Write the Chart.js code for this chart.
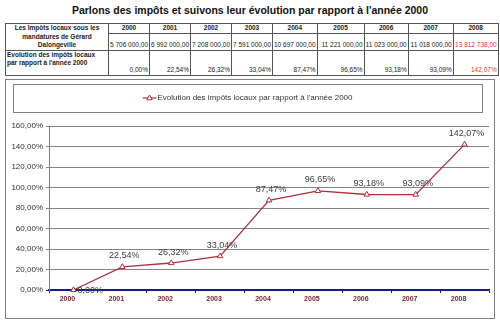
<!DOCTYPE html>
<html><head><meta charset="utf-8">
<script src="https://cdn.jsdelivr.net/npm/chart.js@4.4.1/dist/chart.umd.min.js"></script>
<style>
body{margin:0;width:500px;height:331px;background:#fff;position:relative;overflow:hidden;font-family:"Liberation Sans",Arial,sans-serif;}
#title{position:absolute;left:0;top:4px;width:500px;text-align:center;font-weight:bold;font-size:10.5px;color:#111;line-height:12px;}
#tbl{position:absolute;left:5px;top:23px;border-collapse:collapse;table-layout:fixed;font-size:6.5px;color:#222;}
#tbl td{border:1px solid #555;padding:0 1px;white-space:nowrap;line-height:8.5px;overflow:visible;}
#tbl td.h{font-weight:bold;text-align:center;vertical-align:middle;}
#tbl td.v{text-align:right;vertical-align:bottom;}
#tbl td.lab{font-weight:bold;}
#tbl .red{color:#d23a3a;}
#box{position:absolute;left:5px;top:79px;width:488px;height:238px;border:1px solid #808080;}
canvas{display:block;}
</style></head>
<body>
<div id="title">Parlons des impôts et suivons leur évolution par rapport à l'année 2000</div>
<table id="tbl"></table>
<div id="box"><canvas id="c" width="488" height="238"></canvas></div>
<script>
const categories = ['2000','2001','2002','2003','2004','2005','2006','2007','2008'];
const taxAmounts = [5706000, 6992000, 7208000, 7591000, 10697000, 11221000, 11023000, 11018000, 13812738];
const evolutionPct = [0, 22.54, 26.32, 33.04, 87.47, 96.65, 93.18, 93.09, 142.07];
const rowLabel1 = 'Les Impôts locaux sous les<br>mandatures de Gérard<br>Dalongeville';
const rowLabel2 = 'Evolution des impôts locaux<br>par rapport à l\'année 2000';
const seriesLabel = 'Evolution des impôts locaux par rapport à l\'année 2000';
const yMin = 0, yMax = 160, yStep = 20;

const colWidths = [103, 41, 41, 41, 41, 40, 47, 44, 45, 45];
const FONT = '"Liberation Sans", Arial, sans-serif';

function fmtMoney(v){
  const s = v.toFixed(2).split('.');
  return s[0].replace(/\B(?=(\d{3})+(?!\d))/g, ' ') + ',' + s[1];
}
function fmtPct(v){ return v.toFixed(2).replace('.', ',') + '%'; }

// build table
(function(){
  const t = document.getElementById('tbl');
  let html = '<colgroup>' + colWidths.map(w=>'<col style="width:'+w+'px">').join('') + '</colgroup>';
  const last = categories.length - 1;
  html += '<tr style="height:9px"><td class="h" rowspan="2">'+rowLabel1+'</td>' +
    categories.map(c=>'<td class="h">'+c+'</td>').join('') + '</tr>';
  html += '<tr style="height:17px">' + taxAmounts.map((v,i)=>'<td class="v'+(i===last?' red':'')+'">'+fmtMoney(v)+'</td>').join('') + '</tr>';
  html += '<tr style="height:25px"><td class="lab" style="vertical-align:top;padding-top:0px">'+rowLabel2+'</td>' +
    evolutionPct.map((v,i)=>'<td class="v'+(i===last?' red':'')+'">'+fmtPct(v)+'</td>').join('') + '</tr>';
  t.innerHTML = html;
})();

const LINE = '#a8323e';

const boxLegend = {
  id:'boxLegend',
  afterDraw(chart){
    const c = chart.ctx;
    const x0 = 7, x1 = 476, y0 = 4, y1 = 32;
    c.save();
    c.strokeStyle = '#808080'; c.lineWidth = 1;
    c.strokeRect(x0+0.5, y0+0.5, x1-x0, y1-y0);
    c.font = '8px ' + FONT;
    const tw = c.measureText(seriesLabel).width;
    const mw = 14, gap = 1;
    const total = mw + gap + tw;
    let sx = (x0 + x1)/2 - total/2;
    const cy = (y0 + y1)/2;
    c.strokeStyle = LINE; c.lineWidth = 1.2;
    c.beginPath(); c.moveTo(sx, cy); c.lineTo(sx+mw, cy); c.stroke();
    const r = 3, mx = sx + mw/2;
    c.beginPath();
    c.moveTo(mx, cy - r);
    c.lineTo(mx + r*0.9, cy + r*0.6);
    c.lineTo(mx - r*0.9, cy + r*0.6);
    c.closePath();
    c.fillStyle = '#fff'; c.fill(); c.lineWidth = 1; c.stroke();
    c.fillStyle = '#333'; c.textBaseline = 'middle'; c.textAlign = 'left';
    c.fillText(seriesLabel, sx + mw + gap, cy);
    c.restore();
  }
};

const dataLabels = {
  id:'dataLabels',
  afterDatasetsDraw(chart){
    const c = chart.ctx;
    const meta = chart.getDatasetMeta(0);
    c.save();
    c.font = '9px ' + FONT;
    c.fillStyle = '#404040';
    c.textBaseline = 'middle';
    meta.data.forEach((pt, i) => {
      const txt = fmtPct(chart.data.datasets[0].data[i]);
      if (i === 0) {
        c.textAlign = 'left';
        c.fillText(txt, pt.x + 4, pt.y + 1);
      } else {
        c.textAlign = 'center';
        c.fillText(txt, pt.x + 2, pt.y - 11);
      }
    });
    c.restore();
  }
};

new Chart(document.getElementById('c'), {
  type:'line',
  data:{
    labels:categories,
    datasets:[{
      label:seriesLabel,
      data:evolutionPct,
      borderColor:LINE,
      borderWidth:1.3,
      tension:0,
      pointStyle:'triangle',
      pointRadius:3.2,
      pointBackgroundColor:'#fff',
      pointBorderColor:LINE,
      pointBorderWidth:1,
      clip:false
    }]
  },
  options:{
    responsive:false,
    animation:false,
    events:[],
    layout:{padding:{top:46,left:0,right:0,bottom:0}},
    plugins:{legend:{display:false}, tooltip:{enabled:false}, title:{display:false}},
    scales:{
      x:{
        offset:true,
        grid:{offset:true, drawOnChartArea:false, drawTicks:true, tickLength:3, color:'#1a1a8c'},
        border:{color:'#1a1a8c', width:1.5},
        ticks:{font:{family:FONT, size:7, weight:'bold'}, color:'#7a1f2b', padding:2, autoSkip:false, maxRotation:0, labelOffset:-6},
        afterFit(s){ s.height = 28; }
      },
      y:{
        min:yMin, max:yMax,
        ticks:{stepSize:yStep, callback:v=>fmtPct(v), font:{family:FONT, size:8}, color:'#333', padding:3},
        grid:{color:ctx=> (ctx.tick && ctx.tick.value===0) ? '#1a1a8c' : '#858585', tickLength:3, lineWidth:1},
        border:{color:'#808080', width:1},
        afterFit(s){ s.width = 43; }
      }
    }
  },
  plugins:[boxLegend, dataLabels]
});
</script>
</body></html>
